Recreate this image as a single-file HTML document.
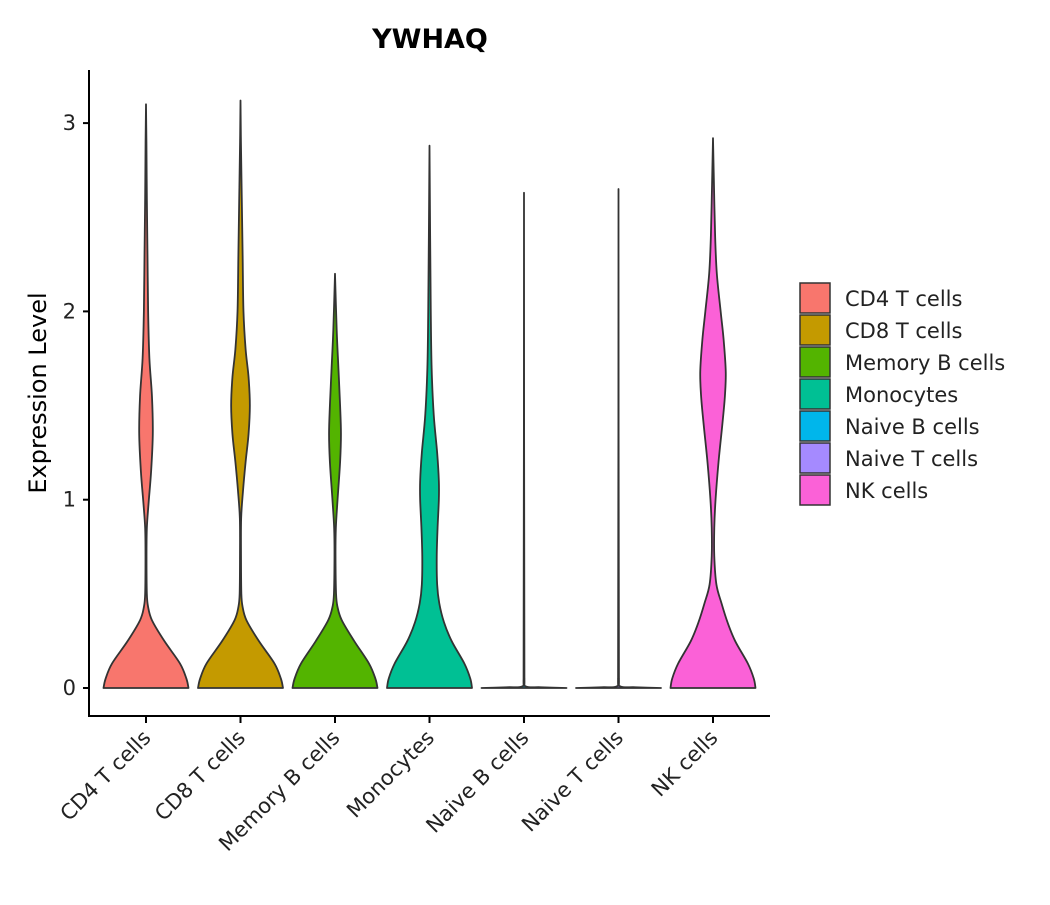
<!DOCTYPE html>
<html><head><meta charset="utf-8"><style>
body{margin:0;background:#fff;}
svg text{font-family:"DejaVu Sans","Liberation Sans",sans-serif;}
</style></head><body>
<svg id="chart" width="1050" height="900" xmlns="http://www.w3.org/2000/svg">
<text x="430" y="48" text-anchor="middle" font-size="27" font-weight="bold">YWHAQ</text>
<text transform="translate(46,393) rotate(-90)" text-anchor="middle" font-size="24">Expression Level</text>
<g id="plot"></g>
<g id="legend"></g>
</svg>
<script>
const categories=["CD4 T cells","CD8 T cells","Memory B cells","Monocytes","Naive B cells","Naive T cells","NK cells"];
const colors=["#F8766D","#C49A00","#53B400","#00C094","#00B6EB","#A58AFF","#FB61D7"];
const yTicks=[0,1,2,3];
const densCD4=[[0,1],[0.05,0.95],[0.13,0.8],[0.25,0.43],[0.36,0.14],[0.43,0.05],[0.5,0.02],[0.7,0.012],[0.85,0.02],[0.98,0.06],[1.15,0.12],[1.35,0.16],[1.55,0.14],[1.75,0.08],[2.0,0.05],[2.3,0.035],[2.6,0.02],[2.9,0.01],[3.1,0]];
const densCD8=[[0,1],[0.05,0.95],[0.13,0.8],[0.25,0.43],[0.36,0.14],[0.43,0.05],[0.5,0.02],[0.7,0.012],[0.9,0.015],[1.05,0.06],[1.2,0.12],[1.35,0.19],[1.5,0.22],[1.65,0.19],[1.8,0.12],[2.0,0.07],[2.3,0.05],[2.6,0.03],[2.9,0.01],[3.12,0]];
const densMemB=[[0,1],[0.05,0.95],[0.13,0.8],[0.25,0.45],[0.36,0.16],[0.43,0.06],[0.5,0.025],[0.7,0.012],[0.85,0.02],[1.0,0.06],[1.2,0.12],[1.35,0.14],[1.5,0.12],[1.7,0.08],[1.9,0.04],[2.2,0]];
const densMono=[[0,1],[0.05,0.96],[0.13,0.82],[0.25,0.52],[0.35,0.34],[0.45,0.23],[0.55,0.18],[0.7,0.17],[0.85,0.19],[1.0,0.22],[1.1,0.22],[1.25,0.18],[1.45,0.1],[1.7,0.05],[2.0,0.03],[2.4,0.015],[2.88,0]];
const densNaiveB=[[0,1],[0.004,0.4],[0.008,0.05],[0.05,0.01],[2.63,0]];
const densNaiveT=[[0,1],[0.004,0.4],[0.008,0.05],[0.05,0.01],[2.65,0]];
const densNK=[[0,1],[0.05,0.96],[0.13,0.82],[0.25,0.52],[0.35,0.34],[0.45,0.2],[0.55,0.08],[0.7,0.03],[0.85,0.03],[1.0,0.06],[1.2,0.13],[1.4,0.22],[1.55,0.28],[1.68,0.3],[1.85,0.25],[2.0,0.18],[2.2,0.09],[2.4,0.05],[2.7,0.02],[2.92,0]];
const densities=[densCD4,densCD8,densMemB,densMono,densNaiveB,densNaiveT,densNK];

const NS="http://www.w3.org/2000/svg";
const plot=document.getElementById('plot');
const X0=146,DX=94.5,Y0=688,YU=188.3,HALF=42.5;
const xScale=i=>X0+i*DX;
const yScale=v=>Y0-v*YU;
function mk(t,a,p){const e=document.createElementNS(NS,t);for(const k in a)e.setAttribute(k,a[k]);p.appendChild(e);return e;}
function spline(pts,cx){
  let s='';
  for(let i=0;i<pts.length-1;i++){
    const p0=pts[Math.max(0,i-1)],p1=pts[i],p2=pts[i+1],p3=pts[Math.min(pts.length-1,i+2)];
    const c1=[p1[0]+(p2[0]-p0[0])/6,Math.min(Y0,p1[1]+(p2[1]-p0[1])/6)];
    const c2=[p2[0]-(p3[0]-p1[0])/6,Math.min(Y0,p2[1]-(p3[1]-p1[1])/6)];
    s+=` C${c1[0].toFixed(2)},${c1[1].toFixed(2)} ${c2[0].toFixed(2)},${c2[1].toFixed(2)} ${p2[0].toFixed(2)},${p2[1].toFixed(2)}`;
  }
  return s;
}
let ax=mk('line',{x1:89,y1:70,x2:89,y2:717,stroke:'#000','stroke-width':2},plot);


ax=mk('line',{x1:88,y1:716,x2:770,y2:716,stroke:'#000','stroke-width':2},plot);


yTicks.forEach(t=>{
  const y=yScale(t);
  const l=mk('line',{x1:83,y1:y,x2:89,y2:y,stroke:'#000','stroke-width':2},plot);
  
  
  const tx=mk('text',{x:76,y:y+7,'text-anchor':'end','font-size':21,fill:'#222'},plot);
  
  
  tx.textContent=t;
});
categories.forEach((c,i)=>{
  const x=xScale(i);
  const l=mk('line',{x1:x,y1:716,x2:x,y2:723,stroke:'#000','stroke-width':2},plot);
  
  
  const tx=mk('text',{transform:`translate(${x+6},${739}) rotate(-45)`,'text-anchor':'end','font-size':21,fill:'#222'},plot);
  
  
  tx.textContent=c;
  const d=densities[i];
  const right=d.map(p=>[x+p[1]*HALF,yScale(p[0])]);
  const left=d.slice().reverse().map(p=>[x-p[1]*HALF,yScale(p[0])]);
  const dstr='M'+right[0][0].toFixed(2)+','+right[0][1].toFixed(2)+spline(right)+' L'+left[0][0].toFixed(2)+','+left[0][1].toFixed(2)+spline(left)+'Z';
  const path=mk('path',{d:dstr,fill:colors[i],stroke:'#333','stroke-width':1.8,'stroke-linejoin':'round'},plot);
  
  
});
const lg=document.getElementById('legend');
categories.forEach((c,i)=>{
  const y=283+i*32;
  const r=mk('rect',{x:800,y:y,width:30,height:30,fill:colors[i],stroke:'#333','stroke-width':1.5},lg);
  
  
  const t=mk('text',{x:845,y:y+23,'font-size':21,fill:'#222'},lg);
  
  
  t.textContent=c;
});
</script>
</body></html>
